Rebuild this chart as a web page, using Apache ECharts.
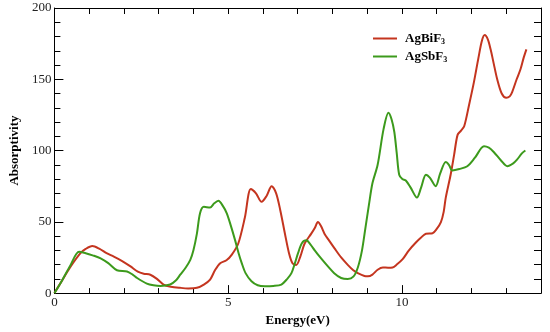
<!DOCTYPE html>
<html>
<head>
<meta charset="utf-8">
<script src="https://cdn.jsdelivr.net/npm/echarts@6/dist/echarts.min.js"></script>
<style>
html,body{margin:0;padding:0;background:#fff;}
#c{width:550px;height:332px;}
</style>
</head>
<body>
<div id="c"></div>
<script>
// AgBiF3 (red)
const biE = [0,0.2,0.45,0.75,0.9,1.09,1.3,1.5,1.71,1.95,2.19,2.4,2.57,2.76,2.95,3.14,3.35,3.62,3.85,4.1,4.3,4.48,4.62,4.77,4.95,5.1,5.29,5.48,5.65,5.8,5.96,6.1,6.25,6.38,6.5,6.63,6.75,6.85,6.96,7.08,7.2,7.39,7.5,7.58,7.67,7.77,7.9,8.06,8.25,8.44,8.6,8.73,8.92,9.02,9.15,9.3,9.45,9.6,9.73,9.85,10.02,10.2,10.4,10.55,10.69,10.88,11.0,11.12,11.2,11.26,11.4,11.5,11.6,11.7,11.79,11.93,12.07,12.2,12.3,12.38,12.47,12.55,12.64,12.74,12.87,13.0,13.1,13.17,13.3,13.41,13.5,13.58];
const biA = [0,8,18,28,31,33,31,28,25.6,22.5,18.7,15,13.6,12.9,10,6,4.5,3.7,3.3,3.7,6,9.5,16,21,23,26.8,34.8,53,73,70,64,68,75,70,58,42,28,21,19.8,26,34.8,41.7,46,49.8,47,41.7,37,31.4,25,19.8,16,14,12,11.8,13,16.4,18,17.8,18,20,23.8,30,35.5,39,41.7,42,45,49.8,57,67,83,97,111,114,117,132,148,165,177,181,178,171,161,150,140,137,138,141,150,157,165,171];
// AgSbF3 (green)
const sbE = [0,0.2,0.45,0.71,0.9,1.1,1.33,1.55,1.8,2.09,2.25,2.38,2.66,2.85,3.05,3.33,3.5,3.62,3.78,3.91,4.0,4.1,4.19,4.3,4.48,4.6,4.72,4.85,4.96,5.08,5.2,5.3,5.39,5.5,5.67,5.85,6.05,6.3,6.53,6.7,6.82,6.92,7.01,7.12,7.25,7.37,7.49,7.65,7.87,8.05,8.25,8.44,8.6,8.73,8.85,8.95,9.05,9.15,9.3,9.47,9.61,9.7,9.78,9.85,9.92,10.01,10.11,10.25,10.43,10.55,10.69,10.8,10.97,11.1,11.26,11.35,11.45,11.65,11.88,12.1,12.36,12.5,12.64,12.85,13.03,13.2,13.31,13.45,13.55];
const sbA = [0,8,19,29,28,26.5,24.4,21,16,15.2,13,10.6,6.7,5.5,5,6,9,12.9,18,23.3,30,41.7,56,60.5,60,63,64.8,61,56,47,37,28,21,14,8.3,5.5,4.8,5,6,10,14,21,28,35,37,34,30,25,18.7,14,10.6,9.9,11.5,18,30,46,62,77,90,115,126.6,122,113,98,83,80,79,74,67,74,83,81,75,84,92,90,86,87,89,95,103,102,99,93,89,91,93.6,98,100];
const xTickLabels = [0,5,10];
const yTickLabels = [0,50,100,150,200];

const serif = '"Liberation Serif","DejaVu Serif",serif';
const pair = (xs, ys) => xs.map((x,i)=>[x, ys[i]]);

const chart = echarts.init(document.getElementById('c'), null, {renderer:'canvas'});
const lineAx = {show:true, onZero:false, lineStyle:{color:'#000', width:1}};
chart.setOption({
  animation:false,
  backgroundColor:'#fff',
  grid:{left:52, right:9, top:8, bottom:35, containLabel:false},
  legend:{
    orient:'vertical', left:368, top:26, itemGap:3,
    icon:'rect', itemWidth:24, itemHeight:2,
    data:['AgBiF3','AgSbF3'],
    formatter: n => '{a|' + n.slice(0,-1) + '}{s|3}',
    textStyle:{color:'#000', padding:[0,0,0,3], rich:{
      a:{fontFamily:serif, fontWeight:'bold', fontSize:13, color:'#000', lineHeight:16},
      s:{fontFamily:serif, fontWeight:'bold', fontSize:8, color:'#000', padding:[7,0,0,0], lineHeight:16}
    }}
  },
  xAxis:[
    {type:'value', position:'bottom', min:0, max:14, interval:1,
     name:'Energy(eV)', nameLocation:'middle', nameGap:17,
     nameTextStyle:{fontFamily:serif, fontWeight:'bold', fontSize:13, color:'#000'},
     axisLine:lineAx, axisTick:{inside:true, length:5, lineStyle:{color:'#000'}},
     axisLabel:{margin:3, fontFamily:serif, fontSize:13, color:'#222',
       formatter:v => xTickLabels.includes(v) ? String(v) : ''},
     splitLine:{show:false}},
    {type:'value', position:'bottom', min:0, max:14, interval:5,
     axisLine:{show:false, onZero:false}, axisTick:{inside:true, length:8, lineStyle:{color:'#000'}},
     axisLabel:{show:false}, splitLine:{show:false}},
    {type:'value', position:'top', min:0, max:14, interval:1,
     axisLine:lineAx, axisTick:{inside:true, length:6, lineStyle:{color:'#000'}},
     axisLabel:{show:false}, splitLine:{show:false}}
  ],
  yAxis:[
    {type:'value', position:'left', min:0, max:200, interval:50,
     name:'Absorptivity', nameLocation:'middle', nameGap:31, nameRotate:90,
     nameTextStyle:{fontFamily:serif, fontWeight:'bold', fontSize:13, color:'#000'},
     axisLine:lineAx, axisTick:{inside:true, length:9, lineStyle:{color:'#000'}},
     minorTick:{show:true, splitNumber:5, length:6, lineStyle:{color:'#000'}},
     axisLabel:{margin:3, fontFamily:serif, fontSize:13, color:'#222',
       formatter:v => yTickLabels.includes(v) ? String(v) : ''},
     splitLine:{show:false}, minorSplitLine:{show:false}},
    {type:'value', position:'right', min:0, max:200, interval:10,
     axisLine:lineAx, axisTick:{inside:true, length:7, lineStyle:{color:'#000'}},
     axisLabel:{show:false}, splitLine:{show:false}}
  ],
  series:[
    {name:'AgBiF3', type:'line', xAxisIndex:0, yAxisIndex:0, data:pair(biE,biA),
     symbol:'none', smooth:0.3, lineStyle:{color:'#c4351f', width:2}, itemStyle:{color:'#c4351f'}},
    {name:'AgSbF3', type:'line', xAxisIndex:0, yAxisIndex:0, data:pair(sbE,sbA),
     symbol:'none', smooth:0.3, lineStyle:{color:'#3c9a1c', width:2}, itemStyle:{color:'#3c9a1c'}}
  ]
});
</script>
</body>
</html>
